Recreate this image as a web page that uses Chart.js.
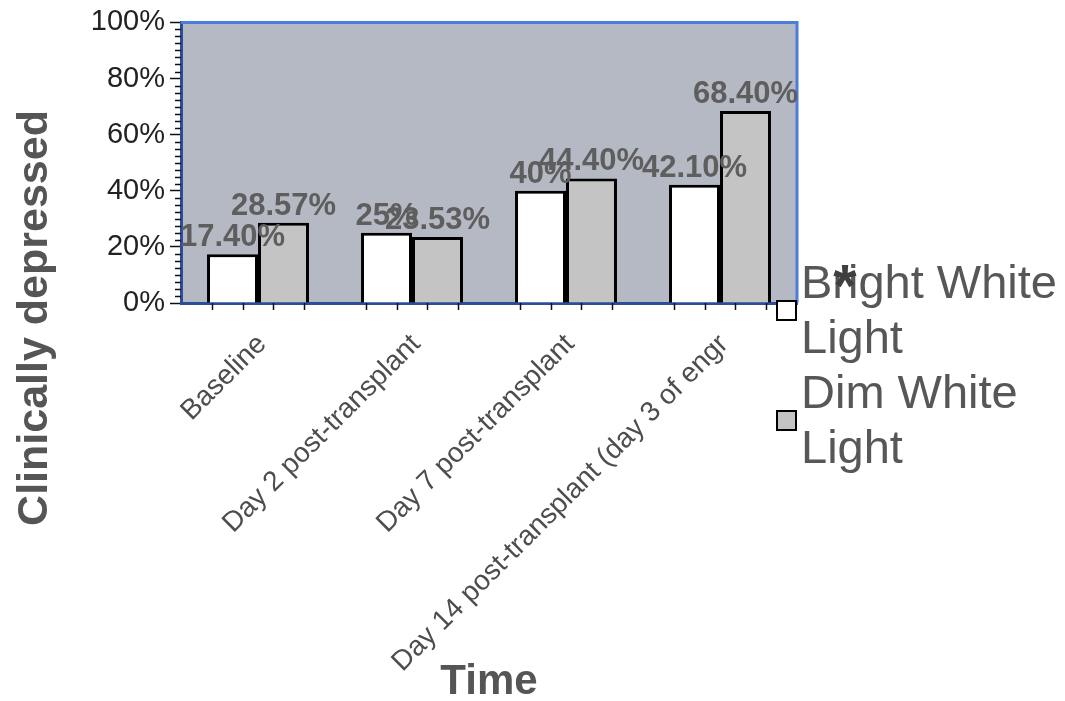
<!DOCTYPE html>
<html>
<head>
<meta charset="utf-8">
<script src="https://cdn.jsdelivr.net/npm/chart.js@4/dist/chart.umd.min.js"></script>
<style>
  html, body { margin: 0; padding: 0; background: #ffffff; }
  canvas { display: block; }
</style>
</head>
<body>
<canvas id="chart" width="1065" height="701"></canvas>
<script>
// ---- data ----
const categories = [
  'Baseline',
  'Day 2 post-transplant',
  'Day 7 post-transplant',
  'Day 14 post-transplant (day 3 of engr'
];
const brightWhiteLight = [17.40, 25, 40, 42.10];
const dimWhiteLight = [28.57, 23.53, 44.40, 68.40];
const seriesNames = ['Bright White Light', 'Dim White Light'];
const yTickValues = [0, 20, 40, 60, 80, 100];
const yAxisTitle = 'Clinically depressed';
const xAxisTitle = 'Time';
const significanceMark = '*';

const FONT = '"Liberation Sans", Arial, Helvetica, sans-serif';

function pctLabel(v) {
  return (Number.isInteger(v) ? String(v) : v.toFixed(2)) + '%';
}

function wrapWords(ctx, text, maxWidth) {
  const words = text.split(' ');
  const lines = [];
  let line = '';
  for (const w of words) {
    const test = line ? line + ' ' + w : w;
    if (line && ctx.measureText(test).width > maxWidth) {
      lines.push(line);
      line = w;
    } else {
      line = test;
    }
  }
  if (line) lines.push(line);
  return lines;
}

// Plot background, frame, minor ticks, value labels, y title and legend
const decorations = {
  id: 'decorations',
  beforeDraw(chart) {
    const { ctx, chartArea: a } = chart;
    ctx.save();
    ctx.fillStyle = '#b5b9c3';
    ctx.fillRect(a.left, a.top, a.right - a.left, a.bottom - a.top);
    ctx.restore();
  },
  afterDatasetsDraw(chart) {
    const { ctx, chartArea: a } = chart;
    const xs = chart.scales.x;
    const ys = chart.scales.y;
    ctx.save();

    // top and right edges of the plot frame
    ctx.strokeStyle = '#4a7ed8';
    ctx.lineWidth = 3;
    ctx.beginPath();
    ctx.moveTo(a.left, a.top);
    ctx.lineTo(a.right, a.top);
    ctx.lineTo(a.right, a.bottom);
    ctx.stroke();

    // minor ticks on the value axis every 2.5%
    ctx.strokeStyle = '#111111';
    ctx.lineWidth = 1.5;
    ctx.beginPath();
    for (let v = 0; v <= 100; v += 2.5) {
      if (v % 20 === 0) continue;
      const y = Math.round(ys.getPixelForValue(v)) + 0.5;
      ctx.moveTo(a.left - 6, y);
      ctx.lineTo(a.left, y);
    }
    ctx.stroke();

    // small tick marks under each group of bars
    const catW = (xs.right - xs.left) / categories.length;
    ctx.beginPath();
    categories.forEach((_, i) => {
      const c = xs.getPixelForValue(i);
      for (let k = 0; k < 4; k++) {
        const x = Math.round(c + (k - 1.5) * 0.2 * catW) + 0.5;
        ctx.moveTo(x, a.bottom);
        ctx.lineTo(x, a.bottom + 7);
      }
    });
    ctx.stroke();

    // value labels above the bars
    ctx.fillStyle = '#5e5e5e';
    ctx.font = 'bold 31px ' + FONT;
    ctx.textAlign = 'center';
    ctx.textBaseline = 'alphabetic';
    chart.data.datasets.forEach((ds, di) => {
      const meta = chart.getDatasetMeta(di);
      meta.data.forEach((bar, i) => {
        ctx.fillText(pctLabel(ds.data[i]), bar.x, bar.y - 8);
      });
    });
    ctx.restore();
  },
  afterDraw(chart) {
    const { ctx, chartArea: a } = chart;
    ctx.save();

    // rotated value-axis title
    ctx.fillStyle = '#555555';
    ctx.font = 'bold 43px ' + FONT;
    ctx.textAlign = 'center';
    ctx.textBaseline = 'middle';
    ctx.translate(35, 318);
    ctx.rotate(-Math.PI / 2);
    ctx.fillText(yAxisTitle, 0, 0);
    ctx.restore();

    // legend to the right of the plot
    ctx.save();
    const boxX = a.right - 20;
    const textX = boxX + 24;
    const lineH = 55;
    let baseline = a.bottom - 5;
    ctx.font = '47px ' + FONT;
    ctx.textAlign = 'left';
    ctx.textBaseline = 'alphabetic';
    chart.data.datasets.forEach((ds) => {
      const lines = wrapWords(ctx, ds.label, 268);
      const firstMid = baseline - 16;
      const lastMid = baseline + (lines.length - 1) * lineH - 16;
      const boxC = (firstMid + lastMid) / 2 + 1;
      ctx.fillStyle = ds.backgroundColor;
      ctx.fillRect(boxX, boxC - 9.5, 19, 19);
      ctx.strokeStyle = '#000000';
      ctx.lineWidth = 2;
      ctx.strokeRect(boxX, boxC - 9.5, 19, 19);
      ctx.fillStyle = '#575757';
      lines.forEach((ln, j) => ctx.fillText(ln, textX, baseline + j * lineH));
      baseline += lines.length * lineH;
    });

    // significance marker
    ctx.fillStyle = '#3f3f3f';
    ctx.font = 'bold 60px ' + FONT;
    ctx.textAlign = 'center';
    ctx.fillText(significanceMark, textX + 44, a.bottom + 3);
    ctx.restore();
  }
};

new Chart(document.getElementById('chart'), {
  type: 'bar',
  data: {
    labels: categories,
    datasets: [
      {
        label: seriesNames[0],
        data: brightWhiteLight,
        backgroundColor: '#ffffff',
        borderColor: '#000000',
        borderWidth: 3
      },
      {
        label: seriesNames[1],
        data: dimWhiteLight,
        backgroundColor: '#c4c4c4',
        borderColor: '#000000',
        borderWidth: 3
      }
    ]
  },
  options: {
    responsive: false,
    animation: false,
    events: [],
    layout: { padding: { top: 22, right: 268, bottom: 0, left: 0 } },
    datasets: {
      bar: { categoryPercentage: 0.662, barPercentage: 1.0 }
    },
    plugins: {
      legend: { display: false },
      tooltip: { enabled: false }
    },
    scales: {
      x: {
        grid: { display: false },
        border: { display: true, color: '#2c4e9a', width: 3 },
        ticks: {
          color: '#4d4d4d',
          font: { family: FONT, size: 28 },
          minRotation: 45,
          maxRotation: 45,
          autoSkip: false,
          padding: 17,
          labelOffset: 4
        },
        title: {
          display: true,
          text: xAxisTitle,
          color: '#555555',
          font: { family: FONT, size: 42, weight: 'bold', lineHeight: 0.9 },
          padding: { top: 0, bottom: 0 }
        },
        afterFit(scale) { scale.height = 398; }
      },
      y: {
        min: 0,
        max: 100,
        afterBuildTicks(scale) { scale.ticks = yTickValues.map(v => ({ value: v })); },
        grid: {
          display: true,
          drawOnChartArea: false,
          drawTicks: true,
          tickLength: 11,
          tickColor: '#111111',
          tickWidth: 1.5
        },
        border: { display: true, color: '#2c4e9a', width: 3 },
        ticks: {
          color: '#222222',
          font: { family: FONT, size: 29 },
          padding: 5,
          callback: (v) => v + '%'
        },
        afterFit(scale) { scale.width = 181; }
      }
    }
  },
  plugins: [decorations]
});
</script>
</body>
</html>
